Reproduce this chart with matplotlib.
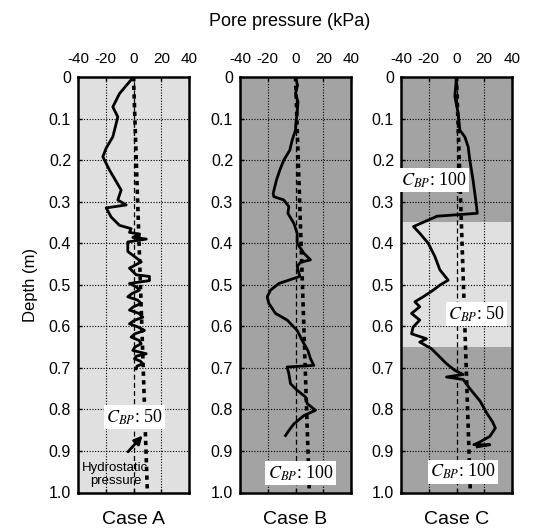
import matplotlib
matplotlib.use("Agg")
import matplotlib.pyplot as plt

plt.rcParams['font.family'] = ['Liberation Sans', 'DejaVu Sans']
plt.rcParams['mathtext.fontset'] = 'stix'

# ---------------- data ----------------
case_names = ["Case A", "Case B", "Case C"]

depth_A = [0.0, 0.04, 0.072, 0.096, 0.144, 0.171, 0.192, 0.224, 0.272, 0.296, 0.308, 0.315,
           0.337, 0.357, 0.365, 0.374, 0.378, 0.386, 0.39, 0.397, 0.42, 0.435, 0.445, 0.46,
           0.476, 0.48, 0.49, 0.497, 0.505, 0.513, 0.521, 0.529, 0.537, 0.545, 0.553, 0.561,
           0.569, 0.578, 0.586, 0.594, 0.602, 0.610, 0.618, 0.626, 0.634, 0.642, 0.650,
           0.658, 0.666, 0.672, 0.678, 0.684, 0.690, 0.696, 0.702]
press_A = [0.0, -10.1, -14.9, -11.3, -14.9, -19.7, -22.1, -17.3, -8.9, -11.3, -5.3, -19.7,
           -16.1, -10.1, -1.7, -2.9, 4.3, -0.5, 9.2, -4.1, -4.1, 1.9, 5.6, -2.9,
           1.9, 11.5, 11.5, -2.9, 2.0, 4.3, -1.0, -4.1, 3.0, 5.5, 0.0, -2.9,
           4.0, 6.7, 0.5, -2.9, 3.5, 7.9, 1.0, -1.7, 4.0, 5.5, 1.0,
           -0.5, 9.2, 2.0, 0.7, 5.0, 6.7, 2.5, 1.9]

depth_B = [0.0, 0.02, 0.039, 0.06, 0.087, 0.11, 0.128, 0.152, 0.176, 0.2, 0.224, 0.248, 0.28,
           0.288, 0.296, 0.312, 0.328, 0.352, 0.376, 0.4, 0.424, 0.44, 0.446, 0.456, 0.48,
           0.497, 0.513, 0.529, 0.545, 0.569, 0.585, 0.61, 0.634, 0.658, 0.678, 0.694, 0.698,
           0.714, 0.738, 0.754, 0.77, 0.786, 0.802, 0.815, 0.835, 0.851, 0.863]
press_B = [0.0, 1.5, 0.0, 1.8, 1.2, 0.3, 0.0, -2.4, -4.1, -8.4, -11.3, -13.7, -16.1,
           -15.6, -8.4, -4.8, -5.5, -1.2, 1.2, 1.2, 6.0, 10.8, 3.6, 1.2, 3.1,
           -12.0, -18.0, -20.4, -19.2, -14.4, -6.0, 1.2, 4.8, 8.9, 10.8, 13.2, -6.0,
           -4.8, -3.6, 1.2, 7.2, 8.4, 14.4, 6.0, -1.2, -4.8, -7.2]

depth_C = [0.0, 0.047, 0.087, 0.128, 0.144, 0.168, 0.2, 0.25, 0.3, 0.328, 0.335, 0.36,
           0.376, 0.4, 0.432, 0.464, 0.489, 0.501, 0.513, 0.529, 0.541, 0.553, 0.569,
           0.585, 0.602, 0.618, 0.63, 0.638, 0.654, 0.674, 0.69, 0.706, 0.716, 0.722,
           0.728, 0.75, 0.78, 0.81, 0.83, 0.845, 0.865, 0.88, 0.885, 0.885, 0.89]
press_C = [0.0, -1.2, 1.2, 2.4, 6.0, 8.4, 9.6, 12.0, 14.0, 15.0, -14.0, -31.0,
           -26.5, -20.4, -15.6, -12.0, -6.0, -12.0, -16.8, -24.0, -30.0, -26.5, -32.4,
           -26.5, -31.3, -32.4, -21.6, -26.5, -18.0, -12.0, -7.2, -1.2, 4.8, -7.2,
           4.8, 9.6, 17.0, 22.0, 26.0, 28.0, 24.0, 16.0, 12.5, 24.0, 15.0]

depths = [depth_A, depth_B, depth_C]
pressures = [press_A, press_B, press_C]

hydro_depth = [0.0, 1.0]
hydro_press = [0.0, 10.0]

x_ticks = [-40, -20, 0, 20, 40]
y_ticks = [0.0, 0.1, 0.2, 0.3, 0.4, 0.5, 0.6, 0.7, 0.8, 0.9, 1.0]
y_ticklabels = ["0", "0.1", "0.2", "0.3", "0.4", "0.5", "0.6", "0.7", "0.8", "0.9", "1.0"]

# CBP labels: (case index, label, x, depth)
cbp_labels = [(0, r"$C_{BP}$: 50", 0.7, 0.819),
              (1, r"$C_{BP}$: 100", 3.6, 0.953),
              (2, r"$C_{BP}$: 100", -16.0, 0.248),
              (2, r"$C_{BP}$: 50", 14.6, 0.57),
              (2, r"$C_{BP}$: 100", 4.5, 0.95)]

light = "#e0e0e0"
dark = "#a3a3a3"

# ---------------- figure ----------------
W, H = 534, 532
fig = plt.figure(figsize=(W / 100, H / 100), dpi=100)

lefts = [78, 240, 401]
ax_w = 111
top_px, bot_px = 77, 492.5

axes = []
for i in range(3):
    ax = fig.add_axes([lefts[i] / W, 1 - bot_px / H, ax_w / W, (bot_px - top_px) / H])
    axes.append(ax)
    ax.set_xlim(-40, 40)
    ax.set_ylim(1.0, 0.0)
    ax.set_facecolor(light if i == 0 else dark)
    if i == 2:
        ax.axhspan(0.35, 0.65, color=light, zorder=0.5, lw=0)

    ax.xaxis.tick_top()
    ax.set_xticks(x_ticks)
    ax.set_xticklabels([str(v) for v in x_ticks], fontsize=11)
    ax.set_yticks(y_ticks)
    ax.set_yticklabels(y_ticklabels, fontsize=11.5)
    ax.tick_params(axis='both', direction='in', length=3, width=1,
                   top=True, bottom=True, left=True, right=False)
    ax.tick_params(axis='x', pad=8)
    ax.tick_params(axis='y', pad=5)

    for xv in [-20, 20]:
        ax.axvline(xv, color='black', lw=0.8, ls=(0, (1, 1.5)), zorder=1)
    for yv in y_ticks[1:-1]:
        ax.axhline(yv, color='black', lw=0.8, ls=(0, (1, 1.5)), zorder=1)
    ax.axvline(0, color='black', lw=0.9, ls=(0, (4, 2.5)), zorder=1)

    ax.plot(hydro_press, hydro_depth, color='black', lw=2.6, ls=(0, (1.2, 1.2)), zorder=3)
    ax.plot(pressures[i], depths[i], color='black', lw=2.0, zorder=4,
            solid_joinstyle='round')

    for sp in ax.spines.values():
        sp.set_linewidth(1.8)

    ax.text(0.5, -0.045, case_names[i], transform=ax.transAxes, ha='center', va='top',
            fontsize=14)

for (ci, lab, xv, yv) in cbp_labels:
    axes[ci].text(xv, yv, lab, ha='center', va='center', fontsize=13,
                  family=['Liberation Serif', 'DejaVu Serif'], zorder=6,
                  bbox=dict(boxstyle='square,pad=0.12', fc='white', ec='none'),
                  clip_on=False)

axA = axes[0]
axA.annotate("", xy=(7.9, 0.858), xytext=(-5.3, 0.907),
             arrowprops=dict(arrowstyle='-|>', color='black', lw=2.0, mutation_scale=12),
             zorder=6)
axA.text(-13.0, 0.957, "Hydrostatic\npressure", ha='center', va='center', fontsize=9.5,
         linespacing=1.1, zorder=2)

axA.set_ylabel("Depth (m)", fontsize=12, labelpad=8)
fig.text(290 / W, 1 - 22 / H, "Pore pressure (kPa)", ha='center', va='center', fontsize=13)

fig.savefig("out.png", dpi=100)
